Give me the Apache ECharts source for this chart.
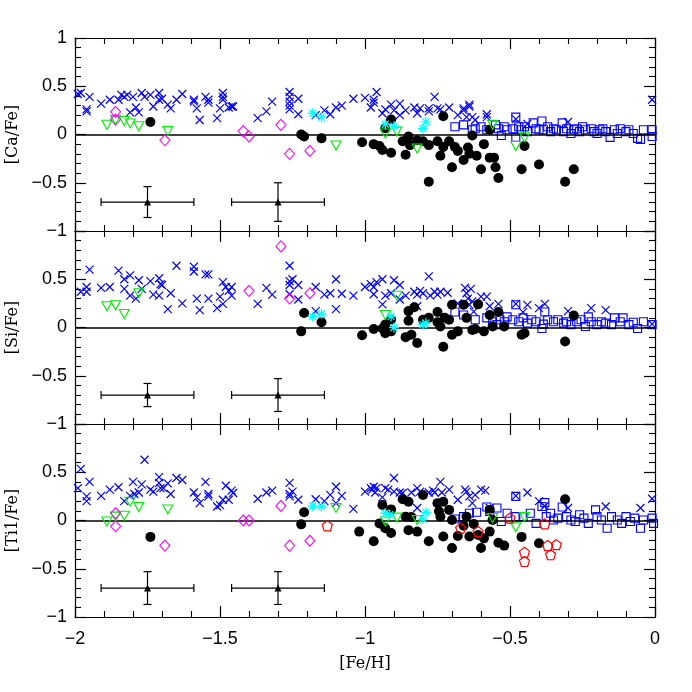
<!DOCTYPE html>
<html><head><meta charset="utf-8">
<script src="https://cdn.jsdelivr.net/npm/echarts@6/dist/echarts.min.js"></script>
<style>html,body{margin:0;padding:0;background:#fff}#c{width:692px;height:692px}</style>
</head><body><div id="c"></div>
<script>
// ---------- DATA ----------
const panelNames = ['[Ca/Fe]', '[Si/Fe]', '[Ti1/Fe]'];
const xName = '[Fe/H]';

// error-bar markers
const errX = [-1.75, -1.30];
const errY = [-0.70, -0.70];
const errXLen = [0.16, 0.16];
const caYErr = [0.16, 0.20];
const siYErr = [0.12, 0.17];
const tiYErr = [0.17, 0.17];

// ---- [Ca/Fe] ----
const caCross = [[-1.99,0.42],[-1.98,0.43],[-1.96,0.26],[-1.96,0.24],[-1.95,0.39],[-1.91,0.32],[-1.88,0.36],[-1.85,0.36],[-1.84,0.41],[-1.83,0.39],[-1.82,0.41],[-1.81,0.23],[-1.80,0.39],[-1.79,0.28],[-1.78,0.23],[-1.77,0.43],[-1.76,0.39],[-1.74,0.41],[-1.73,0.29],[-1.71,0.43],[-1.71,0.36],[-1.70,0.37],[-1.68,0.31],[-1.67,0.27],[-1.65,0.36],[-1.63,0.42],[-1.59,0.36],[-1.59,0.34],[-1.58,0.27],[-1.57,0.15],[-1.55,0.39],[-1.54,0.36],[-1.54,0.33],[-1.51,0.17],[-1.50,0.27],[-1.49,0.43],[-1.49,0.39],[-1.49,0.36],[-1.47,0.28],[-1.46,0.29],[-1.455,0.29],[-1.37,0.17],[-1.34,0.24],[-1.32,0.34],[-1.26,0.44],[-1.26,0.39],[-1.26,0.34],[-1.26,0.30],[-1.26,0.26],[-1.23,0.37],[-1.23,0.21],[-1.17,0.20],[-1.14,0.25],[-1.12,0.21],[-1.10,0.28],[-1.08,0.30],[-1.04,0.37],[-1.00,0.38],[-0.97,0.36],[-0.97,0.33],[-0.96,0.44],[-0.98,0.28],[-0.94,0.22],[-0.93,0.26],[-0.91,0.31],[-0.90,0.25],[-0.88,0.32],[-0.88,0.20],[-0.86,0.25],[-0.83,0.28],[-0.82,0.22],[-0.81,0.27],[-0.78,0.27],[-0.78,0.24],[-0.76,0.39],[-0.75,0.27],[-0.74,0.26],[-0.71,0.28],[-0.68,0.20],[-0.66,0.27],[-0.66,0.25],[-0.64,0.31],[-0.64,0.29],[-0.65,0.18],[-0.63,0.18],[-0.62,0.15],[-0.58,0.21],[-0.58,0.18],[-0.48,0.16],[-0.44,0.11],[-0.30,0.13],[-0.01,0.36]];
const caSquare = [[-0.69,0.08],[-0.66,0.10],[-0.63,0.05],[-0.62,0.06],[-0.60,0.08],[-0.58,0.05],[-0.55,0.10],[-0.54,0.06],[-0.53,-0.01],[-0.52,0.08],[-0.51,0.05],[-0.49,0.06],[-0.48,0.18],[-0.48,-0.03],[-0.47,0.08],[-0.46,0.05],[-0.45,0.08],[-0.44,0.03],[-0.42,0.12],[-0.41,0.06],[-0.40,0.05],[-0.39,0.14],[-0.385,0.05],[-0.37,0.08],[-0.36,0.03],[-0.35,0.06],[-0.34,0.05],[-0.32,0.12],[-0.315,0.03],[-0.305,0.06],[-0.29,0.01],[-0.28,0.05],[-0.27,0.06],[-0.26,0.03],[-0.25,0.08],[-0.24,0.05],[-0.22,0.06],[-0.21,0.03],[-0.20,0.01],[-0.19,0.05],[-0.18,0.06],[-0.17,0.03],[-0.155,-0.03],[-0.14,0.05],[-0.13,0.01],[-0.12,0.06],[-0.10,0.03],[-0.09,0.05],[-0.075,0.01],[-0.06,-0.04],[-0.05,-0.05],[-0.04,0.05],[-0.01,0.05],[-0.01,-0.02]];
const caCircle = [[-1.74,0.13],[-1.22,0.0],[-1.21,-0.02],[-1.15,-0.04],[-1.01,-0.08],[-0.97,-0.10],[-0.95,-0.12],[-0.94,-0.16],[-0.91,-0.19],[-0.91,0.155],[-0.93,0.065],[-0.87,-0.07],[-0.85,-0.02],[-0.845,-0.11],[-0.86,-0.21],[-0.82,-0.06],[-0.80,-0.07],[-0.78,-0.11],[-0.78,-0.49],[-0.75,-0.07],[-0.74,-0.22],[-0.73,0.19],[-0.73,-0.13],[-0.71,-0.07],[-0.70,-0.34],[-0.69,-0.13],[-0.68,-0.17],[-0.66,-0.265],[-0.645,-0.135],[-0.64,-0.20],[-0.63,-0.01],[-0.615,-0.22],[-0.60,-0.36],[-0.59,-0.10],[-0.57,-0.24],[-0.555,-0.24],[-0.55,-0.34],[-0.54,-0.45],[-0.57,0.05],[-0.46,-0.36],[-0.45,-0.12],[-0.40,-0.31],[-0.31,-0.49],[-0.28,-0.36]];
const caTri = [[-1.89,0.10],[-1.86,0.15],[-1.83,0.14],[-1.81,0.115],[-1.78,0.085],[-1.68,0.035],[-1.10,-0.115],[-0.93,0.01],[-0.89,0.03],[-0.82,-0.145],[-0.56,0.10],[-0.48,-0.12],[-0.45,-0.03]];
const caDiamond = [[-1.86,0.235],[-1.86,0.155],[-1.69,-0.06],[-1.42,0.035],[-1.40,-0.02],[-1.29,0.10],[-1.26,-0.20],[-1.19,-0.17]];
const caStar = [[-1.18,0.22],[-1.15,0.18],[-0.93,0.107],[-0.90,0.086],[-0.80,0.062],[-0.79,0.13]];

// ---- [Si/Fe] ----
const siCross = [[-1.98,0.37],[-1.96,0.42],[-1.96,0.37],[-1.95,0.60],[-1.91,0.41],[-1.88,0.42],[-1.85,0.59],[-1.83,0.50],[-1.83,0.40],[-1.81,0.54],[-1.81,0.33],[-1.79,0.30],[-1.78,0.49],[-1.77,0.40],[-1.74,0.48],[-1.73,0.34],[-1.71,0.51],[-1.71,0.33],[-1.705,0.45],[-1.70,0.44],[-1.68,0.19],[-1.67,0.355],[-1.65,0.64],[-1.63,0.25],[-1.59,0.63],[-1.59,0.58],[-1.58,0.30],[-1.57,0.18],[-1.55,0.55],[-1.54,0.55],[-1.54,0.30],[-1.51,0.20],[-1.50,0.32],[-1.49,0.245],[-1.49,0.47],[-1.48,0.42],[-1.47,0.38],[-1.46,0.33],[-1.46,0.42],[-1.37,0.245],[-1.34,0.41],[-1.32,0.34],[-1.26,0.64],[-1.26,0.48],[-1.26,0.44],[-1.26,0.345],[-1.25,0.50],[-1.23,0.44],[-1.23,0.29],[-1.17,0.42],[-1.17,0.17],[-1.14,0.34],[-1.12,0.355],[-1.10,0.50],[-1.10,0.19],[-1.08,0.35],[-1.04,0.33],[-1.00,0.42],[-0.98,0.45],[-0.97,0.42],[-0.97,0.345],[-0.96,0.47],[-0.94,0.50],[-0.94,0.24],[-0.93,0.33],[-0.91,0.355],[-0.90,0.49],[-0.88,0.44],[-0.88,0.29],[-0.86,0.33],[-0.83,0.37],[-0.82,0.34],[-0.82,0.22],[-0.81,0.38],[-0.80,0.355],[-0.78,0.53],[-0.775,0.33],[-0.76,0.37],[-0.75,0.34],[-0.74,0.37],[-0.715,0.36],[-0.68,0.25],[-0.655,0.41],[-0.65,0.355],[-0.645,0.30],[-0.635,0.40],[-0.64,0.235],[-0.63,0.27],[-0.625,0.165],[-0.60,0.32],[-0.58,0.32],[-0.57,0.22],[-0.54,0.245],[-0.48,0.245],[-0.455,0.16],[-0.44,0.235],[-0.40,0.20],[-0.38,0.245],[-0.30,0.17],[-0.22,0.20],[-0.17,0.18],[-0.01,0.035]];
const siSquare = [[-0.69,0.16],[-0.66,0.13],[-0.62,0.08],[-0.58,0.10],[-0.56,0.06],[-0.545,0.03],[-0.535,0.08],[-0.52,0.06],[-0.51,0.11],[-0.49,0.08],[-0.48,0.235],[-0.47,0.06],[-0.455,0.10],[-0.44,0.045],[-0.425,0.08],[-0.41,0.06],[-0.39,-0.01],[-0.385,0.035],[-0.38,0.16],[-0.37,0.08],[-0.35,0.06],[-0.335,0.08],[-0.315,0.045],[-0.305,0.06],[-0.29,0.03],[-0.27,0.06],[-0.255,0.08],[-0.24,0.01],[-0.23,0.11],[-0.22,0.06],[-0.20,0.03],[-0.185,0.06],[-0.17,0.045],[-0.15,0.03],[-0.14,0.10],[-0.12,0.06],[-0.11,0.10],[-0.09,0.03],[-0.075,0.055],[-0.06,-0.01],[-0.04,0.06],[-0.01,0.03]];
const siCircle = [[-1.21,0.15],[-1.15,0.055],[-1.22,-0.04],[-1.01,-0.08],[-0.97,-0.015],[-0.94,-0.01],[-0.93,0.03],[-0.93,-0.06],[-0.91,-0.04],[-0.91,0.08],[-0.86,-0.10],[-0.85,0.17],[-0.85,0.07],[-0.84,-0.075],[-0.83,0.21],[-0.82,-0.16],[-0.80,0.08],[-0.78,0.10],[-0.75,0.16],[-0.75,0.055],[-0.74,0.01],[-0.73,-0.20],[-0.725,0.10],[-0.71,0.08],[-0.70,0.235],[-0.70,-0.075],[-0.68,-0.04],[-0.66,0.235],[-0.65,0.10],[-0.63,-0.025],[-0.62,-0.015],[-0.61,0.24],[-0.59,-0.04],[-0.57,0.13],[-0.56,0.01],[-0.54,0.16],[-0.52,0.01],[-0.46,-0.075],[-0.45,-0.06],[-0.31,-0.145],[-0.28,0.125]];
const siTri = [[-1.89,0.22],[-1.86,0.23],[-1.83,0.14],[-1.78,0.355],[-0.89,0.33],[-0.93,0.13]];
const siDiamond = [[-1.29,0.84],[-1.40,0.38],[-1.26,0.30],[-1.19,0.355]];
const siStar = [[-1.18,0.115],[-1.15,0.14],[-0.91,0.115],[-0.90,0.0],[-0.80,0.03],[-0.79,0.045]];

// ---- [Ti1/Fe] ----
const tiCross = [[-1.99,0.335],[-1.98,0.535],[-1.96,0.25],[-1.96,0.20],[-1.95,0.40],[-1.91,0.255],[-1.88,0.32],[-1.85,0.345],[-1.83,0.20],[-1.81,0.255],[-1.80,0.40],[-1.795,0.275],[-1.78,0.29],[-1.77,0.375],[-1.76,0.63],[-1.74,0.32],[-1.73,0.30],[-1.71,0.45],[-1.71,0.39],[-1.705,0.335],[-1.695,0.335],[-1.68,0.385],[-1.67,0.275],[-1.65,0.44],[-1.63,0.42],[-1.59,0.29],[-1.58,0.24],[-1.57,0.18],[-1.55,0.40],[-1.54,0.275],[-1.54,0.25],[-1.51,0.145],[-1.50,0.16],[-1.49,0.215],[-1.48,0.36],[-1.47,0.215],[-1.46,0.31],[-1.455,0.285],[-1.37,0.225],[-1.34,0.29],[-1.32,0.31],[-1.26,0.39],[-1.26,0.275],[-1.26,0.25],[-1.25,0.30],[-1.23,0.215],[-1.17,0.22],[-1.14,0.20],[-1.12,0.265],[-1.10,0.35],[-1.10,0.18],[-1.08,0.255],[-1.04,0.12],[-1.00,0.30],[-0.98,0.335],[-0.975,0.32],[-0.97,0.35],[-0.965,0.29],[-0.96,0.335],[-0.94,0.24],[-0.93,0.335],[-0.92,0.32],[-0.90,0.44],[-0.90,0.30],[-0.88,0.29],[-0.87,0.285],[-0.84,0.29],[-0.82,0.335],[-0.82,0.13],[-0.81,0.30],[-0.78,0.29],[-0.765,0.31],[-0.76,0.29],[-0.74,0.40],[-0.735,0.29],[-0.71,0.32],[-0.68,0.215],[-0.655,0.32],[-0.65,0.30],[-0.64,0.25],[-0.63,0.18],[-0.62,0.265],[-0.60,0.32],[-0.585,0.31],[-0.57,0.13],[-0.48,0.255],[-0.44,0.29],[-0.40,0.20],[-0.38,0.15],[-0.30,0.13],[-0.17,0.145],[-0.05,0.13],[-0.01,0.225]];
const tiSquare = [[-0.69,0.015],[-0.66,0.04],[-0.64,0.075],[-0.615,0.085],[-0.58,0.14],[-0.57,0.095],[-0.545,0.13],[-0.53,-0.01],[-0.51,0.075],[-0.48,0.25],[-0.48,0.04],[-0.455,0.04],[-0.43,0.075],[-0.41,-0.03],[-0.39,0.145],[-0.38,0.185],[-0.375,0.04],[-0.36,0.075],[-0.35,0.005],[-0.335,0.025],[-0.32,0.14],[-0.305,0.04],[-0.29,0.005],[-0.275,-0.01],[-0.26,0.06],[-0.245,0.025],[-0.23,-0.03],[-0.205,0.11],[-0.20,0.04],[-0.185,0.005],[-0.165,-0.08],[-0.15,0.04],[-0.13,0.005],[-0.115,-0.03],[-0.10,0.04],[-0.085,-0.01],[-0.07,0.025],[-0.05,-0.08],[-0.04,0.005],[-0.01,0.025],[-0.005,-0.03]];
const tiCircle = [[-1.74,-0.17],[-1.21,0.085],[-1.22,-0.04],[-1.02,-0.115],[-0.97,-0.215],[-0.95,-0.03],[-0.94,0.16],[-0.93,-0.08],[-0.91,0.115],[-0.91,-0.13],[-0.87,0.22],[-0.86,0.04],[-0.85,0.195],[-0.85,-0.10],[-0.84,0.035],[-0.82,-0.115],[-0.80,0.265],[-0.78,-0.215],[-0.75,0.18],[-0.745,0.095],[-0.74,0.04],[-0.73,0.195],[-0.73,-0.165],[-0.71,0.11],[-0.70,0.005],[-0.70,-0.285],[-0.68,-0.16],[-0.66,-0.055],[-0.65,0.04],[-0.64,-0.165],[-0.625,-0.035],[-0.61,-0.15],[-0.60,-0.285],[-0.59,-0.185],[-0.57,0.11],[-0.57,-0.115],[-0.56,0.005],[-0.54,-0.23],[-0.52,-0.26],[-0.46,-0.17],[-0.40,-0.235],[-0.31,0.22]];
const tiTri = [[-1.89,-0.01],[-1.86,0.04],[-1.83,0.05],[-1.81,0.195],[-1.78,0.14],[-1.68,0.115],[-1.10,0.13],[-0.93,-0.01],[-0.89,0.03],[-0.82,0.005],[-0.56,0.025],[-0.48,-0.07],[-0.45,0.035]];
const tiDiamond = [[-1.86,0.075],[-1.86,-0.06],[-1.69,-0.26],[-1.42,0.0],[-1.40,0.0],[-1.29,0.15],[-1.26,-0.26],[-1.19,-0.21]];
const tiStar = [[-1.18,0.15],[-1.15,0.145],[-0.93,0.075],[-0.915,0.06],[-0.80,0.015],[-0.79,0.085]];
const tiPentagon = [[-1.13,-0.055],[-0.67,-0.08],[-0.61,-0.115],[-0.50,0.025],[-0.45,-0.33],[-0.45,-0.425],[-0.38,-0.035],[-0.37,-0.26],[-0.36,-0.355],[-0.34,-0.25]];

// ---------- CHART ----------
const panels = [
  {cross: caCross, square: caSquare, circle: caCircle, tri: caTri, diamond: caDiamond, star: caStar, pent: [], yerr: caYErr},
  {cross: siCross, square: siSquare, circle: siCircle, tri: siTri, diamond: siDiamond, star: siStar, pent: [], yerr: siYErr},
  {cross: tiCross, square: tiSquare, circle: tiCircle, tri: tiTri, diamond: tiDiamond, star: tiStar, pent: tiPentagon, yerr: tiYErr}
];

const tops = [38, 231, 424];
const H = 193;
const labelFont = {fontFamily: 'Liberation Sans', fontSize: 18, color: '#000'};
const nameFont = {fontFamily: 'DejaVu Serif', fontSize: 16, color: '#000'};
const fmt = v => (v < 0 ? '\u2212' : '') + String(Math.abs(v));
const axisLine = {show: true, onZero: false, lineStyle: {color: '#000', width: 1.2}};
const axisTick = {show: true, inside: true, length: 11, lineStyle: {color: '#000', width: 1.2}};
const minorTick = {show: true, splitNumber: 5, length: 6, lineStyle: {color: '#000', width: 1.1}};

const grid = [], xAxis = [], yAxis = [], series = [];
const BLUE = '#0000ff', GREEN = '#00ee00', MAG = '#ff00ff', CYAN = '#00ffff', RED = '#ff0000';
const CROSS = 'path://M0,0L10,10M10,0L0,10';
const STAR = 'path://M5,0L5,10M0,5L10,5M1.5,1.5L8.5,8.5M8.5,1.5L1.5,8.5';
const TRI = 'path://M0,0L10,0L5,9Z';
const PENT = 'path://M5,0L10,3.6L8.1,9.5L1.9,9.5L0,3.6Z';

panels.forEach((p, i) => {
  grid.push({left: 75, right: 37, top: tops[i], height: H, containLabel: false, outerBoundsMode: 'none'});
  const last = i === 2;
  const common = {type: 'value', gridIndex: i, axisLine, axisTick, minorTick,
    splitLine: {show: false}, minorSplitLine: {show: false}};
  xAxis.push({...common, min: -2, max: 0, interval: 0.5, position: 'bottom',
    axisLabel: {show: last, formatter: fmt, margin: 13, ...labelFont},
    name: last ? xName : '', nameLocation: 'middle', nameGap: 39, nameTextStyle: nameFont});
  xAxis.push({...common, min: -2, max: 0, interval: 0.5, position: 'top', axisLabel: {show: false}});
  yAxis.push({...common, min: -1, max: 1, interval: 0.5, position: 'left',
    axisLabel: {show: true, formatter: fmt, margin: 8, showMaxLabel: i === 0, showMinLabel: true, ...labelFont},
    name: panelNames[i], nameLocation: 'middle', nameGap: 38, nameRotate: 90, nameTextStyle: nameFont});
  yAxis.push({...common, min: -1, max: 1, interval: 0.5, position: 'right', axisLabel: {show: false}});

  const xi = 2 * i, yi = 2 * i;
  const sc = (data, symbol, size, fill, stroke, bw, z) => ({
    type: 'scatter', xAxisIndex: xi, yAxisIndex: yi, data, symbol, symbolSize: size, z: z || 2,
    silent: true, itemStyle: {color: fill, borderColor: stroke, borderWidth: bw, opacity: 1}
  });
  // zero line
  series.push({type: 'line', xAxisIndex: xi, yAxisIndex: yi, data: [], silent: true,
    markLine: {silent: true, symbol: 'none', animation: false, label: {show: false},
      lineStyle: {color: '#000', width: 1.5, type: 'solid'}, data: [{yAxis: 0}]}});
  series.push(sc(p.cross, CROSS, 8, BLUE, BLUE, 1.2, 2));
  series.push(sc(p.square, 'rect', 8, 'rgba(0,0,0,0)', BLUE, 1.1, 3));
  series.push(sc(p.circle, 'circle', 10, '#000', '#000', 0, 4));
  series.push(sc(p.tri, TRI, [10, 9], 'rgba(0,0,0,0)', GREEN, 1.1, 5));
  series.push(sc(p.diamond, 'diamond', [10, 11], 'rgba(0,0,0,0)', MAG, 1.1, 5));
  series.push(sc(p.star, STAR, 10, CYAN, CYAN, 1.3, 6));
  if (p.pent.length) series.push(sc(p.pent, PENT, 10, 'rgba(0,0,0,0)', RED, 1.2, 6));

  // error bars
  const ebData = errX.map((x, k) => [x, errY[k], errXLen[k], p.yerr[k]]);
  series.push({type: 'custom', xAxisIndex: xi, yAxisIndex: yi, data: ebData, silent: true, z: 7,
    renderItem: (params, api) => {
      const x = api.value(0), y = api.value(1), dx = api.value(2), dy = api.value(3);
      const l = api.coord([x - dx, y]), r = api.coord([x + dx, y]);
      const t = api.coord([x, y + dy]), b = api.coord([x, y - dy]);
      const st = {stroke: '#000', lineWidth: 1.2};
      const cap = 4;
      const ln = (x1, y1, x2, y2) => ({type: 'line', shape: {x1, y1, x2, y2}, style: st});
      return {type: 'group', children: [
        ln(l[0], l[1], r[0], r[1]),
        ln(l[0], l[1] - cap, l[0], l[1] + cap),
        ln(r[0], r[1] - cap, r[0], r[1] + cap),
        ln(t[0], t[1], b[0], b[1]),
        ln(t[0] - cap, t[1], t[0] + cap, t[1]),
        ln(b[0] - cap, b[1], b[0] + cap, b[1])
      ]};
    }});
  series.push(sc(errX.map((x, k) => [x, errY[k]]), 'triangle', 7, '#000', '#000', 0, 8));
});

const chart = echarts.init(document.getElementById('c'), null, {renderer: 'canvas'});
chart.setOption({animation: false, backgroundColor: '#fff', grid, xAxis, yAxis, series, tooltip: {show: false}});
</script>
</body></html>
